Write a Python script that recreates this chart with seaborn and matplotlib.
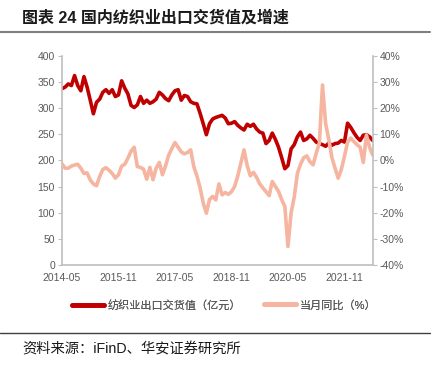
import numpy as np
import pandas as pd
import matplotlib
matplotlib.use("Agg")
import matplotlib.pyplot as plt
import seaborn as sns
from matplotlib.lines import Line2D

# ---- data (monthly, 2014-05 .. 2022-08) ----
export_value = [337, 340, 346, 343, 362, 343, 333, 360, 340, 315,
                289, 311, 317, 330, 335, 328, 335, 322, 325, 352,
                338, 327, 305, 301, 306, 322, 309, 315, 309, 312,
                317, 330, 325, 318, 314, 325, 333, 335, 315, 324,
                322, 312, 309, 308, 290, 270, 249, 270, 279, 282,
                284, 286, 281, 270, 271, 274, 267, 262, 258, 269,
                265, 269, 260, 254, 252, 232, 238, 252, 240, 225,
                205, 184, 190, 222, 230, 245, 254, 238, 241, 248,
                242, 235, 232, 230, 227, 233, 229, 232, 233, 238,
                235, 271, 263, 253, 244, 238, 248, 249, 245, 238]
yoy = [-1.3, -3.0, -3.0, -2.2, -1.8, -1.5, -3.0, -5.0, -4.8, -7.5,
       -9.0, -9.7, -6.2, -3.5, -2.8, -3.8, -5.0, -6.8, -5.5, -2.2,
       -1.5, 0.8, 3.5, 5.0, -2.4, -2.7, -3.4, -7.2, -2.7, -7.4,
       -3.0, -0.8, -5.5, -2.1, 2.0, 4.5, 6.8, 5.0, 3.2, 2.5,
       3.0, 4.0, -2.4, -6.0, -10.5, -16.3, -20.2, -15.0, -13.8, -15.1,
       -9.0, -13.2, -12.3, -13.0, -12.0, -10.0, -6.0, -1.0, 4.0, -2.0,
       -5.9, -4.6, -6.5, -9.0, -10.5, -12.0, -13.5, -8.1, -10.0, -11.9,
       -15.0, -17.6, -32.9, -20.0, -14.0, -5.0, -1.5, 1.0, 1.7, -0.5,
       -1.7, 2.7, 6.6, 28.8, 14.0, 8.0, 1.0, -3.0, -6.8, -3.5,
       1.5, 7.0, 8.5, 7.2, 6.0, 5.0, -0.8, 9.7, 5.0, 2.1]
tick_labels = ["2014-05", "2015-11", "2017-05", "2018-11", "2020-05", "2021-11"]
left_ticks = [0, 50, 100, 150, 200, 250, 300, 350, 400]
right_ticks = [-40, -30, -20, -10, 0, 10, 20, 30, 40]

title = "图表 24 国内纺织业出口交货值及增速"
label_value = "纺织业出口交货值（亿元）"
label_yoy = "当月同比（%）"
source = "资料来源：iFinD、华安证券研究所"

df = pd.DataFrame({"idx": np.arange(len(export_value)),
                   "value": export_value, "yoy": yoy})

sns.set_theme(style="white")
plt.rcParams['font.family'] = ['Liberation Sans', 'Noto Sans CJK SC', 'DejaVu Sans']

RED = "#C00000"
PINK = "#F5B5A0"
GRAY = "#595959"
SPINE = "#BFBFBF"

fig = plt.figure(figsize=(4.32, 3.66), dpi=100)
ax = fig.add_axes([62/432, 1-265/366, (372.7-62)/432, (265-55.7)/366])
ax2 = ax.twinx()

sns.lineplot(data=df, x="idx", y="value", ax=ax, color=RED, linewidth=2.6, legend=False)
sns.lineplot(data=df, x="idx", y="yoy", ax=ax2, color=PINK, linewidth=2.6, legend=False)

n = len(export_value)
ax.set_xlim(0, n - 1)
ax.set_ylim(0, 400)
ax2.set_ylim(-40, 40)
ax.set_xticks([i * 18 for i in range(len(tick_labels))])
ax.set_xticklabels(tick_labels)
ax.set_yticks(left_ticks)
ax2.set_yticks(right_ticks)
ax2.set_yticklabels([f"{t}%" for t in right_ticks])
ax.set_xlabel("")
ax.set_ylabel("")
ax2.set_ylabel("")

for a in (ax, ax2):
    for s in a.spines.values():
        s.set_visible(False)
    a.tick_params(colors=GRAY, labelsize=7.5, length=3, width=0.8, color=SPINE, pad=2)
    a.grid(False)
ax.spines['left'].set_visible(True)
ax.spines['bottom'].set_visible(True)
ax2.spines['right'].set_visible(True)
for s in (ax.spines['left'], ax.spines['bottom'], ax2.spines['right']):
    s.set_color(SPINE)
    s.set_linewidth(1.2)
ax.tick_params(axis='x', direction='out', length=3, pad=3)
ax.tick_params(axis='y', direction='out', left=True)
ax2.tick_params(axis='y', direction='out', right=True)

# legends (two entries, placed separately)
y_leg = 1 - 305/366
for color, label, x0 in [(RED, label_value, 72/432), (PINK, label_yoy, 264/432)]:
    leg = fig.legend([Line2D([], [], color=color, linewidth=3.4)], [label],
                     loc='center left', bbox_to_anchor=(x0, y_leg), frameon=False,
                     fontsize=8, handlelength=2.9, handletextpad=0.3,
                     borderpad=0, borderaxespad=0)
    for t in leg.get_texts():
        t.set_color(GRAY)
    fig.add_artist(leg)

# title, rules and source
fig.text(22/432, 1-18/366, title, fontsize=11.5, fontweight='bold', color='#1a1a1a',
         va='center', ha='left')
fig.add_artist(Line2D([0, 430/432], [1-32/366, 1-32/366], color='#7f7f7f', linewidth=1.5,
                      transform=fig.transFigure))
fig.add_artist(Line2D([0, 430/432], [1-333/366, 1-333/366], color='#404040', linewidth=1.0,
                      transform=fig.transFigure))
fig.text(22/432, 1-349/366, source, fontsize=10.3, color='#1a1a1a', va='center', ha='left')

fig.savefig("out.png", dpi=100)
